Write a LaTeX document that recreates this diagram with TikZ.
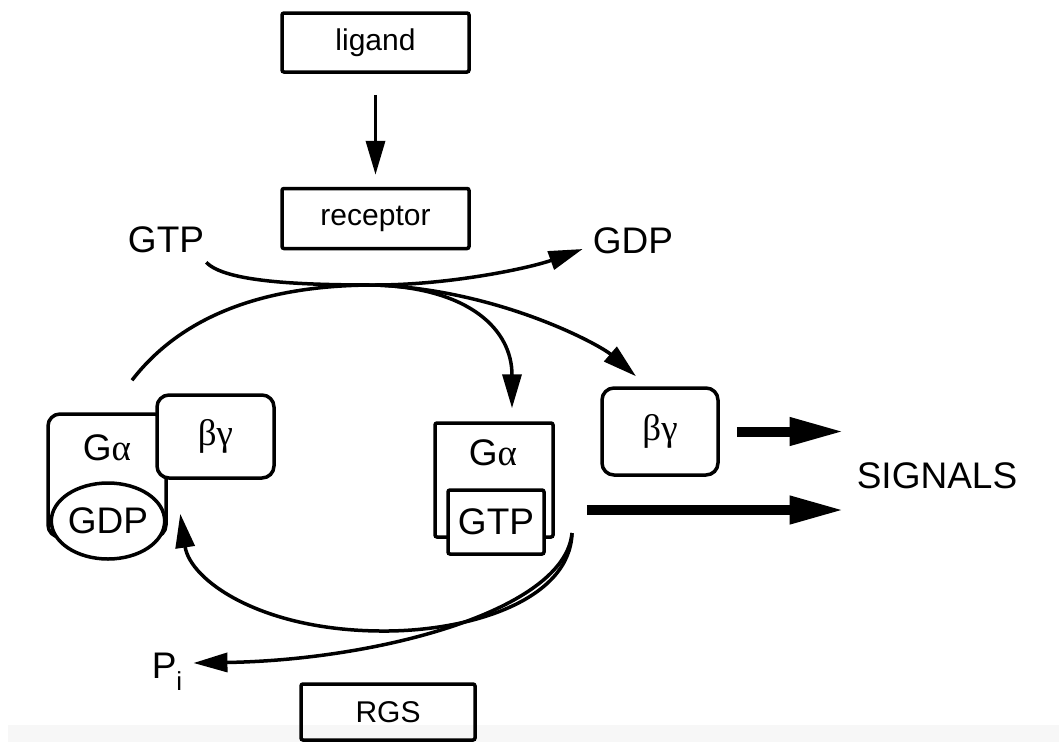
\documentclass[tikz,border=0pt]{standalone}
\usepackage{fontspec}
\setmainfont{Liberation Sans}
\newfontfamily\grk{Liberation Serif}
\usetikzlibrary{positioning, shapes.geometric, arrows.meta}

\newcommand{\biglbl}{\fontsize{37}{40}\selectfont}
\newcommand{\smalllbl}{\fontsize{30}{32}\selectfont}

\begin{document}
\begin{tikzpicture}[
        x=1pt, y=-1pt,
        font=\biglbl,
        line/.style={-{Triangle[length=34pt,width=19pt]}, line width=3.5pt},
        sigline/.style={-{Triangle[length=55pt,width=26pt]}, line width=10pt, shorten >=12pt},
        box/.style={draw, line width=3.5pt, rounded corners=2pt, minimum width=187pt,
                    minimum height=59pt, font=\smalllbl},
        part/.style={draw, line width=3.5pt, fill=white, inner sep=0pt},
        lbl/.style={inner sep=0pt}
    ]
    \useasboundingbox (0,0) rectangle (1059,742);
    \fill[black!3] (8,725) rectangle (1059,742);

    \node[box] (ligand) at (375.5,42.5) {ligand};
    \node[box, below=113pt of ligand, minimum height=60pt] (receptor) {receptor};
    \node[box, minimum width=174pt, minimum height=56pt] (rgs) at (388,712) {RGS};

    \node[lbl] (gtp) at (166,240) {GTP};
    \node[lbl] (gdp) at (633,241) {GDP};
    \node[lbl] (signals) at (937,476) {SIGNALS};
    \node[lbl] (pi) at (167,672) {P\raisebox{-12pt}{\fontsize{26}{26}\selectfont i}};

    % inactive G protein
    \node[part, rounded corners=12pt, minimum width=118pt, minimum height=123pt] (gaD) at (107,475.5) {};
    \node[lbl] at (107,448) {G{\grk α}};
    \node[part, rounded corners=12pt, minimum width=117pt, minimum height=83pt] (bgL) at (215.5,436.5) {{\grk βγ}};
    \node[part, ellipse, minimum width=106pt, minimum height=76pt] (gdpE) at (108,521) {GDP};

    % active G alpha and free beta gamma
    \node[part, rounded corners=2pt, minimum width=118pt, minimum height=114pt] (gtpA) at (494,480) {};
    \node[lbl] at (493,453) {G{\grk α}};
    \node[part, rounded corners=2pt, minimum width=96pt, minimum height=64pt] (gtpB) at (496,522) {GTP};
    \node[part, rounded corners=12pt, minimum width=116pt, minimum height=87pt] (bgR) at (660,431.5) {{\grk βγ}};

    \coordinate (hub) at (375,285);
    \coordinate (hyd) at (572,533);
    \coordinate (gaout) at ([shift={(32,30)}]gtpA.east);

    \draw[line, shorten <=21pt, shorten >=12pt] (ligand) -- (receptor);
    \draw[line] ([shift={(2,9)}]gtp.south east) .. controls (225,282) and (300,285) .. (hub)
        .. controls (450,285) and (530,268) .. ([shift={(-10,8)}]gdp.west);
    \draw[line width=3.5pt] ([shift={(25,-32)}]gaD.north) .. controls (180,318) and (260,285) .. (hub);
    \draw[line] (hub) .. controls (470,288) and (512,330) .. ([shift={(18,-13)}]gtpA.north);
    \draw[line] (hub) .. controls (500,290) and (600,345) .. ([shift={(-24,-10)}]bgR.north);

    \draw[line] (hyd) .. controls (570,600) and (470,632) .. (380,631)
        .. controls (260,630) and (190,580) .. ([shift={(25,34)}]bgL.south west);
    \draw[line] (hyd) .. controls (565,610) and (380,660) .. ([shift={(11,-9)}]pi.east);

    \draw[sigline] ([xshift=17pt]bgR.east) -- (bgR.east -| signals.west);
    \draw[sigline] (gaout) -- (gaout -| signals.west);

\end{tikzpicture}
\end{document}
